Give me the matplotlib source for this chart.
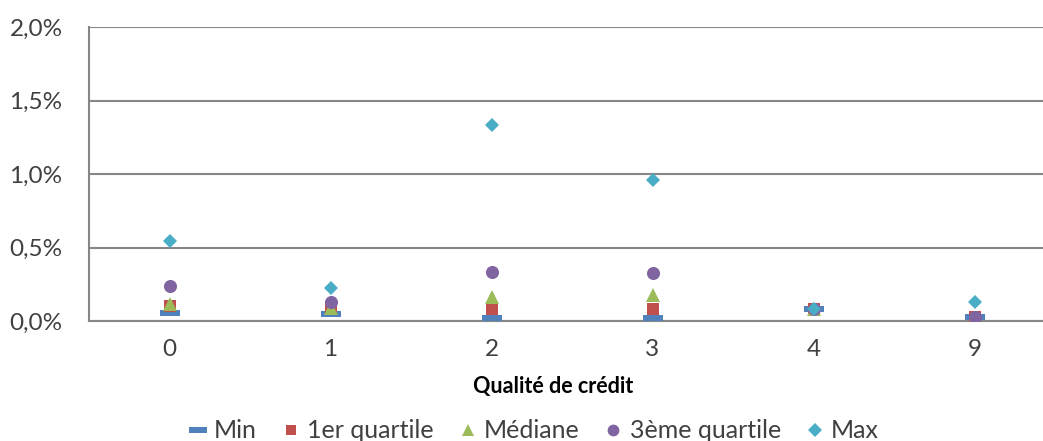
import matplotlib
matplotlib.use("Agg")
import matplotlib.pyplot as plt
from matplotlib.ticker import FuncFormatter

plt.rcParams["font.family"] = ["Lato", "DejaVu Sans"]

categories = ["0", "1", "2", "3", "4", "9"]
val_min = [0.054, 0.046, 0.023, 0.020, 0.082, 0.027]
val_q1 = [0.104, 0.095, 0.080, 0.082, 0.082, 0.030]
val_med = [0.116, 0.090, 0.165, 0.177, 0.080, 0.020]
val_q3 = [0.238, 0.131, 0.331, 0.324, 0.082, 0.030]
val_max = [0.546, 0.227, 1.333, 0.959, 0.082, 0.131]

grey = "#868686"
text_col = "#404040"

# flat bar used as the "Min" marker
dash = [(-1, -0.28), (1, -0.28), (1, 0.28), (-1, 0.28), (-1, -0.28)]

W, H = 1043, 441
fig = plt.figure(figsize=(W / 100, H / 100), dpi=100)
ax = fig.add_axes([89 / W, (H - 321) / H, 966 / W, 294 / H])

x = list(range(len(categories)))
series = [
    ("Min", val_min, dash, 14.5, "#4F81BD"),
    ("1er quartile", val_q1, "s", 8.6, "#C0504D"),
    ("Médiane", val_med, "^", 10, "#9BBB59"),
    ("3ème quartile", val_q3, "o", 9.4, "#8064A2"),
    ("Max", val_max, "D", 7.4, "#4BACC6"),
]
for name, vals, mk, ms, col in series:
    ax.plot(x, vals, linestyle="none", marker=mk, markersize=ms,
            color=col, markeredgewidth=0, label=name, zorder=3)

ax.set_xlim(-0.5, 5.5)
ax.set_ylim(0, 2.0)
ax.set_yticks([0, 0.5, 1.0, 1.5, 2.0])
ax.yaxis.set_major_formatter(FuncFormatter(lambda v, p: f"{v:.1f}%".replace(".", ",")))
ax.set_xticks(x)
ax.set_xticklabels(categories)
ax.grid(True, axis="y", color=grey, linewidth=1.5, zorder=1)
ax.set_axisbelow(True)

for side in ["top", "right"]:
    ax.spines[side].set_visible(False)
for side in ["left", "bottom"]:
    ax.spines[side].set_color(grey)
    ax.spines[side].set_linewidth(1.5)

ax.tick_params(axis="both", length=0, labelsize=17.5, labelcolor=text_col)
ax.tick_params(axis="y", pad=19)
ax.tick_params(axis="x", pad=13)

fig.text(553 / W, 1 - 387 / H, "Qualité de crédit", ha="center", va="center",
         fontsize=15.5, fontweight="bold", color="black")

fig.legend(loc="center", bbox_to_anchor=(534 / W, 1 - 431 / H), ncol=5,
           frameon=False, fontsize=18, labelcolor=text_col,
           handlelength=0.7, handletextpad=0.3, columnspacing=1.0,
           markerscale=0.9, borderpad=0)

fig.savefig("out.png", dpi=100)
